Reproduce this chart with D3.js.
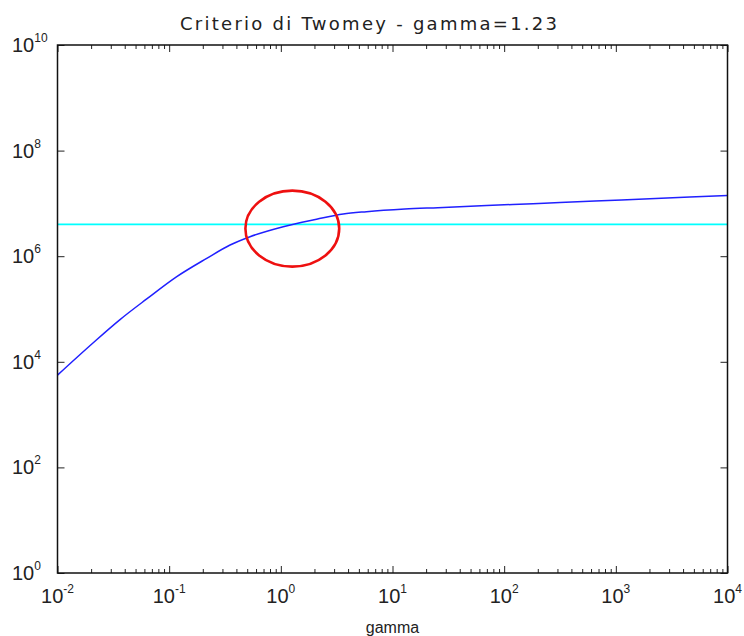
<!DOCTYPE html>
<html lang="it">
<head>
<meta charset="UTF-8">
<title>Criterio di Twomey</title>
<script src="https://d3js.org/d3.v7.min.js"></script>
<style>
body {
  margin: 0;
  background: white;
}
svg {
  display: block;
}
.ticklab {
  font-family: "Liberation Sans", Arial, sans-serif;
  fill: #222;
}
</style>
</head>
<body>
<svg></svg>
<script>
// valori
const gamma = [0.01, 0.0209, 0.0363, 0.063, 0.117, 0.217, 0.351, 0.53, 1.05, 2.09, 3.62, 5.85,
  12.9, 25.5, 69.7, 181, 316, 1125, 4600, 10000];
const criterio = [5.6e3, 2.3e4, 6.3e4, 1.55e5, 4.1e5, 9.1e5, 1.63e6, 2.34e6, 3.62e6, 5.0e6, 6.3e6, 6.97e6,
  7.8e6, 8.3e6, 9.1e6, 9.9e6, 1.04e7, 1.16e7, 1.32e7, 1.41e7];
const soglia = 4.0e6;
const gammaOttimo = 1.23;
const xDecadi = [-2, -1, 0, 1, 2, 3, 4];
const yDecadi = [0, 2, 4, 6, 8, 10];
const titolo = "Criterio di Twomey - gamma=1.23";
const etichettaX = "gamma";

let width = 744;
let height = 636;
let mLeft = 57.5, mRight = 727.5, mTop = 45, mBottom = 573;

let svg = d3.select("svg")
  .attr("width", width)
  .attr("height", height);

let x = d3.scaleLog()
  .domain([1e-2, 1e4])
  .range([mLeft, mRight]);
let y = d3.scaleLog()
  .domain([1e0, 1e10])
  .range([mBottom, mTop]);

// tick minori asse x
let minori = [];
xDecadi.slice(0, -1).forEach(d => {
  for (let k = 2; k <= 9; k++) minori.push(k * Math.pow(10, d));
});
let maggioriX = xDecadi.map(d => Math.pow(10, d));
let maggioriY = yDecadi.map(d => Math.pow(10, d));

function assi(axisFn, scale, pos, values, size) {
  let g = svg.append("g")
    .attr("transform", pos)
    .call(axisFn(scale).tickValues(values).tickSize(size).tickFormat(""));
  g.select(".domain").remove();
  g.selectAll(".tick line").attr("stroke", "#222").attr("stroke-width", 1);
  return g;
}

assi(d3.axisBottom, x, "translate(0," + mBottom + ")", maggioriX, -7);
assi(d3.axisBottom, x, "translate(0," + mBottom + ")", minori, -4);
assi(d3.axisTop, x, "translate(0," + mTop + ")", maggioriX, -7);
assi(d3.axisTop, x, "translate(0," + mTop + ")", minori, -4);
assi(d3.axisLeft, y, "translate(" + mLeft + ",0)", maggioriY, -7);
assi(d3.axisRight, y, "translate(" + mRight + ",0)", maggioriY, -7);

// dati
svg.append("line")
  .attr("x1", x(1e-2)).attr("x2", x(1e4))
  .attr("y1", y(soglia)).attr("y2", y(soglia))
  .attr("stroke", "#00ffff")
  .attr("stroke-width", 1.6);

svg.append("path")
  .datum(gamma.map((g, i) => [g, criterio[i]]))
  .attr("d", d3.line().curve(d3.curveMonotoneX).x(d => x(d[0])).y(d => y(d[1])))
  .attr("fill", "none")
  .attr("stroke", "#2020ff")
  .attr("stroke-width", 1.5);

// cornice
svg.append("rect")
  .attr("x", mLeft).attr("y", mTop)
  .attr("width", mRight - mLeft).attr("height", mBottom - mTop)
  .attr("fill", "none")
  .attr("stroke", "#111")
  .attr("stroke-width", 1.5);

// cerchio rosso intorno all'intersezione
let cy = soglia / 1.2;
svg.append("ellipse")
  .attr("cx", x(gammaOttimo * 1.03))
  .attr("cy", y(cy))
  .attr("rx", x(gammaOttimo * Math.pow(10, 0.42)) - x(gammaOttimo))
  .attr("ry", y(cy) - y(cy * Math.pow(10, 0.72)))
  .attr("fill", "none")
  .attr("stroke", "#ee1010")
  .attr("stroke-width", 2.6);

// etichette tick
maggioriX.forEach((v, i) => {
  let t = svg.append("text")
    .attr("class", "ticklab")
    .attr("x", x(v))
    .attr("y", 603)
    .attr("text-anchor", "middle")
    .style("font-size", "20px");
  t.append("tspan").text("10");
  t.append("tspan").attr("dy", -10).style("font-size", "12px").text(xDecadi[i]);
});

maggioriY.forEach((v, i) => {
  let t = svg.append("text")
    .attr("class", "ticklab")
    .attr("x", 12)
    .attr("y", y(v) + 7)
    .style("font-size", "20px");
  t.append("tspan").text("10");
  t.append("tspan").attr("dy", -10).style("font-size", "12px").text(yDecadi[i]);
});

svg.append("text")
  .attr("x", 180)
  .attr("y", 29.5)
  .attr("textLength", 377)
  .attr("lengthAdjust", "spacing")
  .style("font-family", "'DejaVu Sans', sans-serif")
  .style("font-size", "18px")
  .style("fill", "#222")
  .text(titolo);

svg.append("text")
  .attr("x", (mLeft + mRight) / 2)
  .attr("y", 633)
  .attr("text-anchor", "middle")
  .style("font-family", "'Liberation Sans', Arial, sans-serif")
  .style("font-size", "16px")
  .style("fill", "#222")
  .text(etichettaX);
</script>
</body>
</html>
